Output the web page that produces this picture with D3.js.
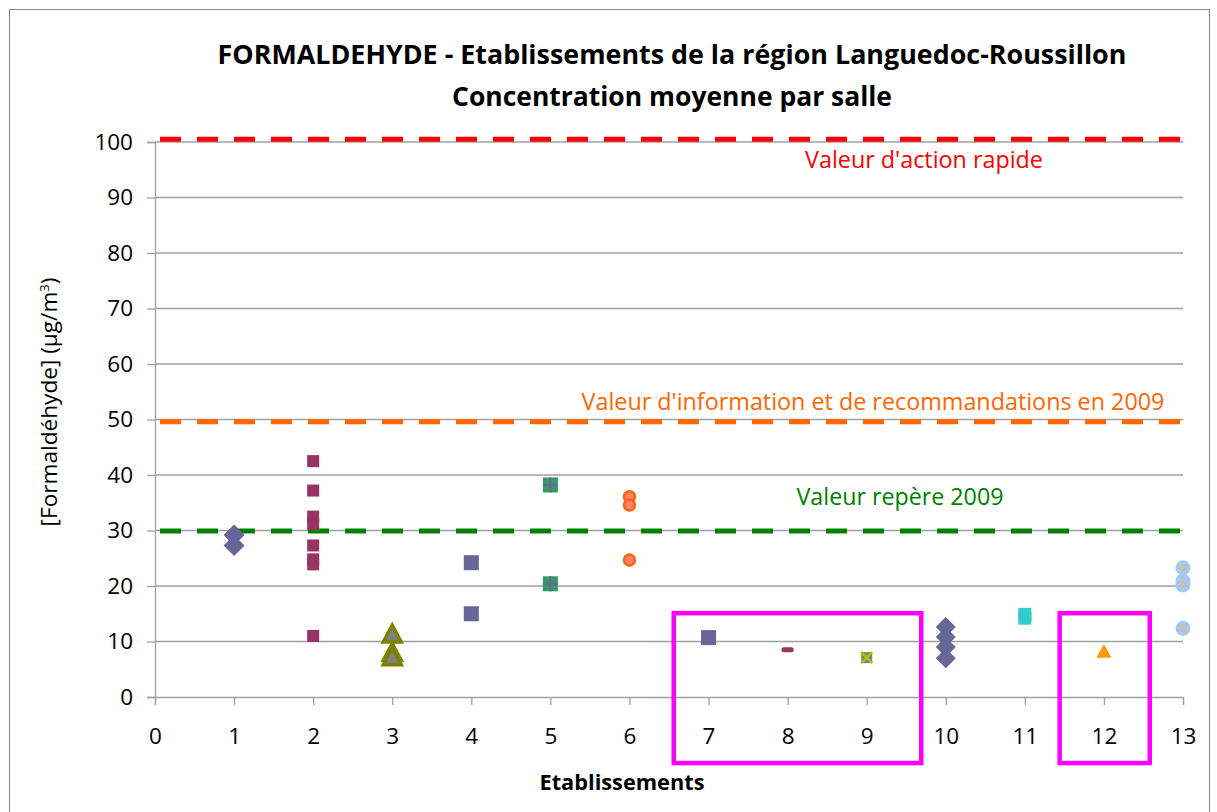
<!DOCTYPE html>
<html>
<head>
<meta charset="utf-8">
<script src="https://cdn.jsdelivr.net/npm/d3@7"></script>
<style>
  body { margin: 0; background: #fff; }
  text { font-family: "Open Sans", "Liberation Sans", sans-serif; }
</style>
</head>
<body>
<div id="chart"></div>
<script>
// valeurs (µg/m3), une liste par établissement
const etab1 = [29.2, 27.3];
const etab2 = [42.5, 37.2, 32.5, 31.2, 27.3, 24.8, 23.9, 11.0];
const etab3 = [11.3, 8.0, 7.2];
const etab4 = [24.2, 15.0];
const etab5 = [38.2, 20.4];
const etab6 = [36.1, 34.6, 24.7];
const etab7 = [10.7];
const etab8 = [8.5];
const etab9 = [7.1];
const etab10 = [12.6, 10.8, 9.0, 7.0];
const etab11 = [14.2, 14.9];
const etab12 = [8.2];
const etab13 = [23.3, 20.9, 20.2, 12.4];

const seuils = [100.5, 49.6, 29.9];
const seuilLabels = ["Valeur d'action rapide", "Valeur d'information et de recommandations en 2009", "Valeur repère 2009"];
const xTicks = d3.range(0, 14);
const yTicks = d3.range(0, 101, 10);
// zones encadrées (en unités d'établissement)
const cadres = [[6.56, 9.69], [11.44, 12.58]];

const width = 1217, height = 812;
const mLeft = 155, mRight = 1183, mTop = 142, mBottom = 697;

const svg = d3.select("#chart").append("svg")
  .attr("width", width)
  .attr("height", height);

svg.append("rect")
  .attr("x", 9.5).attr("y", 9.5)
  .attr("width", 1200).attr("height", 820)
  .attr("fill", "none")
  .attr("stroke", "#868686");

const x = d3.scaleLinear().domain([0, 13]).range([mLeft, mRight]);
const y = d3.scaleLinear().domain([0, 100]).range([mBottom, mTop]);

function fit(node, target, size) {
  const w = node.getComputedTextLength();
  d3.select(node).style("font-size", (size * target / w).toFixed(2) + "px");
}

// grille
svg.append("g")
  .selectAll("line")
  .data(yTicks.slice(1))
  .enter().append("line")
  .attr("x1", x(0)).attr("x2", x(13))
  .attr("y1", d => y(d)).attr("y2", d => y(d))
  .attr("stroke", "#a0a0a0")
  .attr("stroke-width", 1.3);

const yAxis = svg.append("g")
  .attr("transform", `translate(${mLeft},0)`)
  .call(d3.axisLeft(y).tickValues(yTicks).tickSize(8).tickPadding(14));
const xAxis = svg.append("g")
  .attr("transform", `translate(0,${mBottom})`)
  .call(d3.axisBottom(x).tickValues(xTicks).tickSize(8).tickPadding(23));

[yAxis, xAxis].forEach(ax => {
  ax.select(".domain").attr("stroke", "#a0a0a0").attr("stroke-width", 1.3);
  ax.selectAll(".tick line").attr("stroke", "#a0a0a0").attr("stroke-width", 1.3);
  ax.selectAll(".tick text")
    .attr("fill", "#000")
    .style("font-size", "22.5px")
    .style("font-family", "'Open Sans', sans-serif");
});

// lignes de seuil
const seuilColors = ["#ff0000", "#ff6600", "#008000"];
svg.append("g")
  .selectAll("line")
  .data(seuils)
  .enter().append("line")
  .attr("x1", x(0)).attr("x2", x(13))
  .attr("y1", d => y(d)).attr("y2", d => y(d))
  .attr("stroke", (d, i) => seuilColors[i])
  .attr("stroke-width", 5)
  .attr("stroke-dasharray", "21 16")
  .attr("stroke-dashoffset", 32);

const labelPos = [[924, 168], [873, 410], [900, 505]];
const labelWidths = [238, 583, 207];
svg.append("g")
  .selectAll("text")
  .data(seuilLabels)
  .enter().append("text")
  .attr("x", (d, i) => labelPos[i][0])
  .attr("y", (d, i) => labelPos[i][1])
  .attr("text-anchor", "middle")
  .attr("fill", (d, i) => seuilColors[i])
  .style("font-size", "21px")
  .text(d => d)
  .each(function(d, i) { fit(this, labelWidths[i], 21); });

// séries
const series = [
  { x: 1, v: etab1, shape: "diamond", fill: "#666699", size: 21 },
  { x: 2, v: etab2, shape: "square", fill: "#993366", size: 12 },
  { x: 3, v: etab3, shape: "triangle", fill: "#808080", stroke: "#808000", size: 18 },
  { x: 4, v: etab4, shape: "square", fill: "#666699", size: 15 },
  { x: 5, v: etab5, shape: "squareplus", fill: "#339966", stroke: "#666699", size: 15 },
  { x: 6, v: etab6, shape: "circle", fill: "#ff8080", stroke: "#ff6600", size: 13.5 },
  { x: 7, v: etab7, shape: "square", fill: "#666699", size: 15 },
  { x: 8, v: etab8, shape: "dash", fill: "#993366", size: 12 },
  { x: 9, v: etab9, shape: "squarex", fill: "#808080", stroke: "#99cc00", size: 11 },
  { x: 10, v: etab10, shape: "diamond", fill: "#666699", size: 20 },
  { x: 11, v: etab11, shape: "square", fill: "#33cccc", size: 13 },
  { x: 12, v: etab12, shape: "triangle", fill: "#ff9900", size: 15 },
  { x: 13, v: etab13, shape: "circle", fill: "#c0c0c0", stroke: "#99ccff", size: 15 }
];

const pts = svg.append("g");
series.forEach(s => {
  const g = pts.selectAll(null)
    .data(s.v)
    .enter().append("g")
    .attr("transform", d => `translate(${x(s.x)},${y(d)})`);
  const h = s.size / 2;
  if (s.shape === "diamond") {
    const side = s.size / Math.SQRT2;
    g.append("rect")
      .attr("x", -side / 2).attr("y", -side / 2)
      .attr("width", side).attr("height", side)
      .attr("transform", "rotate(45)")
      .attr("fill", s.fill);
  } else if (s.shape === "square" || s.shape === "squareplus" || s.shape === "squarex") {
    g.append("rect")
      .attr("x", -h).attr("y", -h)
      .attr("width", s.size).attr("height", s.size)
      .attr("fill", s.fill);
    if (s.shape === "squareplus") {
      g.append("path")
        .attr("d", `M${-h},0H${h}M0,${-h}V${h}`)
        .attr("stroke", s.stroke).attr("stroke-width", 2);
    }
    if (s.shape === "squarex") {
      g.append("path")
        .attr("d", `M${-h},${-h}L${h},${h}M${-h},${h}L${h},${-h}`)
        .attr("stroke", s.stroke).attr("stroke-width", 2.5);
    }
  } else if (s.shape === "triangle") {
    g.append("path")
      .attr("d", `M0,${-h}L${h},${h * 0.85}L${-h},${h * 0.85}Z`)
      .attr("fill", s.fill)
      .attr("stroke", s.stroke || "none")
      .attr("stroke-width", 3.5)
      .attr("stroke-linejoin", "miter");
  } else if (s.shape === "circle") {
    g.append("circle")
      .attr("r", h - 1.3)
      .attr("fill", s.fill)
      .attr("stroke", s.stroke)
      .attr("stroke-width", 2.6);
  } else if (s.shape === "dash") {
    g.append("rect")
      .attr("x", -h).attr("y", -2.5)
      .attr("width", s.size).attr("height", 5)
      .attr("rx", 2)
      .attr("fill", s.fill);
  }
});

// cadres magenta
svg.append("g")
  .selectAll("rect")
  .data(cadres)
  .enter().append("rect")
  .attr("x", d => x(d[0]))
  .attr("y", y(15.1))
  .attr("width", d => x(d[1]) - x(d[0]))
  .attr("height", y(-11.9) - y(15.1))
  .attr("fill", "none")
  .attr("stroke", "#ff00ff")
  .attr("stroke-width", 4.5);

// titres
const t1 = svg.append("text")
  .attr("x", 672).attr("y", 64)
  .attr("text-anchor", "middle")
  .style("font-weight", "bold")
  .style("font-size", "26px")
  .text("FORMALDEHYDE - Etablissements de la région Languedoc-Roussillon");
fit(t1.node(), 909, 26);
const t2 = svg.append("text")
  .attr("x", 672).attr("y", 106)
  .attr("text-anchor", "middle")
  .style("font-weight", "bold")
  .style("font-size", "26px")
  .text("Concentration moyenne par salle");
fit(t2.node(), 440, 26);

const xt = svg.append("text")
  .attr("x", 622).attr("y", 790)
  .attr("text-anchor", "middle")
  .style("font-weight", "bold")
  .style("font-size", "20px")
  .text("Etablissements");
fit(xt.node(), 165, 20);

const yt = svg.append("text")
  .attr("transform", "translate(57,402) rotate(-90)")
  .attr("text-anchor", "middle")
  .style("font-size", "20px");
yt.append("tspan").text("[Formaldéhyde] (µg/m");
yt.append("tspan").attr("dy", -8).style("font-size", "13px").text("3");
yt.append("tspan").attr("dy", 8).text(")");
fit(yt.node(), 250, 20);
</script>
</body>
</html>
